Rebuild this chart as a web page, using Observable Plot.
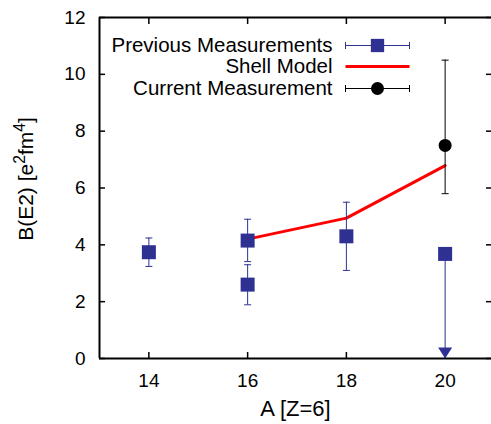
<!DOCTYPE html>
<html><head><meta charset="utf-8">
<script src="https://cdn.jsdelivr.net/npm/d3@7"></script>
<script src="https://cdn.jsdelivr.net/npm/@observablehq/plot@0.6"></script>
<style>html,body{margin:0;padding:0;background:#fff;} svg{display:block}</style>
</head><body><div id="chart"></div>
<script>
// ---- data ----
const xTicks = [14, 16, 18, 20];
const yTicks = [0, 2, 4, 6, 8, 10, 12];

// Previous measurements (error bars)
const prevA  = [14, 16, 16, 18];
const prevB  = [3.74, 4.15, 2.60, 4.30];
const prevLo = [3.24, 3.41, 1.89, 3.10];
const prevHi = [4.24, 4.90, 3.30, 5.50];

// Previous measurement given as upper limit
const limA  = [20];
const limB  = [3.68];
const limLo = [0];

// Shell model
const shellA = [16, 18, 20];
const shellB = [4.20, 4.94, 6.79];

// Current measurement
const curA  = [20];
const curB  = [7.5];
const curLo = [5.8];
const curHi = [10.5];

const legendLabels = ["Previous Measurements", "Shell Model", "Current Measurement"];
const xLabel = "A [Z=6]";
const yLabelParts = ["B(E2) [e", "2", "fm", "4", "]"];

// ---- build tables ----
const prev = prevA.map((a, i) => ({A: a, B: prevB[i], lo: prevLo[i], hi: prevHi[i]}));
const lim = limA.map((a, i) => ({A: a, B: limB[i], lo: limLo[i]}));
const shell = shellA.map((a, i) => ({A: a, B: shellB[i]}));
const cur = curA.map((a, i) => ({A: a, B: curB[i], lo: curLo[i], hi: curHi[i]}));

const BLUE = "#2e3192";

// custom symbols
const hLine = w => ({draw(ctx) { ctx.moveTo(-w / 2, 0); ctx.lineTo(w / 2, 0); }});
const vLine = h => ({draw(ctx) { ctx.moveTo(0, -h / 2); ctx.lineTo(0, h / 2); }});
const downTri = {draw(ctx) { ctx.moveTo(0, 0); ctx.lineTo(-7, -11); ctx.lineTo(7, -11); ctx.closePath(); }};

// legend geometry (relative to top-left of frame)
const LX_TEXT = 233, LX_MID = 278, LX_L = 246, LX_R = 310;
const LY = [28, 49, 71];

const legendMarks = [
  ...legendLabels.map((t, i) => Plot.text([t], {frameAnchor: "top-left", text: d => d, dx: LX_TEXT, dy: LY[i], textAnchor: "end", lineAnchor: "middle", fill: "black", fontSize: 20.5})),
  // row 1: previous
  Plot.dot([0], {frameAnchor: "top-left", dx: LX_MID, dy: LY[0], symbol: hLine(LX_R - LX_L), stroke: BLUE, strokeWidth: 1, fill: "none"}),
  Plot.dot([0], {frameAnchor: "top-left", dx: LX_L, dy: LY[0], symbol: vLine(7), stroke: BLUE, strokeWidth: 1, fill: "none"}),
  Plot.dot([0], {frameAnchor: "top-left", dx: LX_R, dy: LY[0], symbol: vLine(7), stroke: BLUE, strokeWidth: 1, fill: "none"}),
  Plot.dot([0], {frameAnchor: "top-left", dx: LX_MID, dy: LY[0], symbol: "square", r: 7.5, fill: BLUE, stroke: "none"}),
  // row 2: shell model
  Plot.dot([0], {frameAnchor: "top-left", dx: LX_MID, dy: LY[1], symbol: hLine(LX_R - LX_L), stroke: "#ff0000", strokeWidth: 3, fill: "none"}),
  // row 3: current
  Plot.dot([0], {frameAnchor: "top-left", dx: LX_MID, dy: LY[2], symbol: hLine(LX_R - LX_L), stroke: "black", strokeWidth: 1, fill: "none"}),
  Plot.dot([0], {frameAnchor: "top-left", dx: LX_L, dy: LY[2], symbol: vLine(7), stroke: "black", strokeWidth: 1, fill: "none"}),
  Plot.dot([0], {frameAnchor: "top-left", dx: LX_R, dy: LY[2], symbol: vLine(7), stroke: "black", strokeWidth: 1, fill: "none"}),
  Plot.dot([0], {frameAnchor: "top-left", dx: LX_MID, dy: LY[2], r: 6.5, fill: "black", stroke: "none"})
];

const chart = Plot.plot({
  width: 491,
  height: 424,
  marginLeft: 99,
  marginRight: 0,
  marginTop: 17,
  marginBottom: 66,
  style: {fontFamily: "'Liberation Sans', Arial, sans-serif", fontSize: "19px", background: "#fff", color: "black"},
  x: {domain: [13, 21], range: [99, 494]},
  y: {domain: [0, 12], range: [358, 17]},
  marks: [
    // frame: left, top, bottom (right side falls off the picture)
    Plot.ruleY([0, 12], {stroke: "black", strokeWidth: 2}),
    Plot.ruleX([13], {stroke: "black", strokeWidth: 2}),
    Plot.axisX(xTicks, {anchor: "bottom", tickSize: -6, tickPadding: 21, strokeWidth: 1.5, label: null, fill: "black"}),
    Plot.axisX(xTicks, {anchor: "top", tickSize: -6, strokeWidth: 1.5, tickFormat: () => "", label: null}),
    Plot.axisY(yTicks, {anchor: "left", tickSize: -6, tickPadding: 20, strokeWidth: 1.5, label: null, fill: "black"}),
    Plot.axisY(yTicks, {anchor: "right", tickSize: -6, strokeWidth: 1.5, tickFormat: () => "", label: null}),
    // axis labels
    Plot.text([xLabel], {frameAnchor: "bottom", text: d => d, dy: 50, textAnchor: "middle", lineAnchor: "middle", fill: "black", fontSize: 22}),
    Plot.text([yLabelParts.join("")], {frameAnchor: "left", text: d => d, dx: -73, dy: -9, rotate: -90, textAnchor: "middle", lineAnchor: "middle", fill: "black", fontSize: 21}),
    // shell model
    Plot.line(shell, {x: "A", y: "B", stroke: "#ff0000", strokeWidth: 3}),
    // previous measurements
    Plot.ruleX(prev, {x: "A", y1: "lo", y2: "hi", stroke: BLUE, strokeWidth: 1}),
    Plot.dot(prev, {x: "A", y: "hi", symbol: hLine(7), stroke: BLUE, strokeWidth: 1, fill: "none"}),
    Plot.dot(prev, {x: "A", y: "lo", symbol: hLine(7), stroke: BLUE, strokeWidth: 1, fill: "none"}),
    Plot.dot(prev, {x: "A", y: "B", symbol: "square", r: 7.9, fill: BLUE, stroke: "none"}),
    // upper limit
    Plot.ruleX(lim, {x: "A", y1: "lo", y2: "B", stroke: BLUE, strokeWidth: 1}),
    Plot.dot(lim, {x: "A", y: "lo", symbol: downTri, fill: BLUE, stroke: "none"}),
    Plot.dot(lim, {x: "A", y: "B", symbol: "square", r: 7.9, fill: BLUE, stroke: "none"}),
    // current measurement
    Plot.ruleX(cur, {x: "A", y1: "lo", y2: "hi", stroke: "black", strokeWidth: 1}),
    Plot.dot(cur, {x: "A", y: "hi", symbol: hLine(7), stroke: "black", strokeWidth: 1, fill: "none"}),
    Plot.dot(cur, {x: "A", y: "lo", symbol: hLine(7), stroke: "black", strokeWidth: 1, fill: "none"}),
    Plot.dot(cur, {x: "A", y: "B", r: 6.5, fill: "black", stroke: "none"}),
    ...legendMarks
  ]
});

// superscripts in the y label
chart.querySelectorAll("text").forEach(t => {
  if (t.textContent === yLabelParts.join("")) {
    while (t.firstChild) t.removeChild(t.firstChild);
    const ns = "http://www.w3.org/2000/svg";
    yLabelParts.forEach((p, i) => {
      const s = document.createElementNS(ns, "tspan");
      s.textContent = p;
      if (i % 2 === 1) { s.setAttribute("font-size", "0.75em"); s.setAttribute("dy", "-0.5em"); }
      else if (i > 0) { s.setAttribute("dy", "0.375em"); }
      t.appendChild(s);
    });
  }
});

document.getElementById("chart").appendChild(chart);
</script>
</body></html>
